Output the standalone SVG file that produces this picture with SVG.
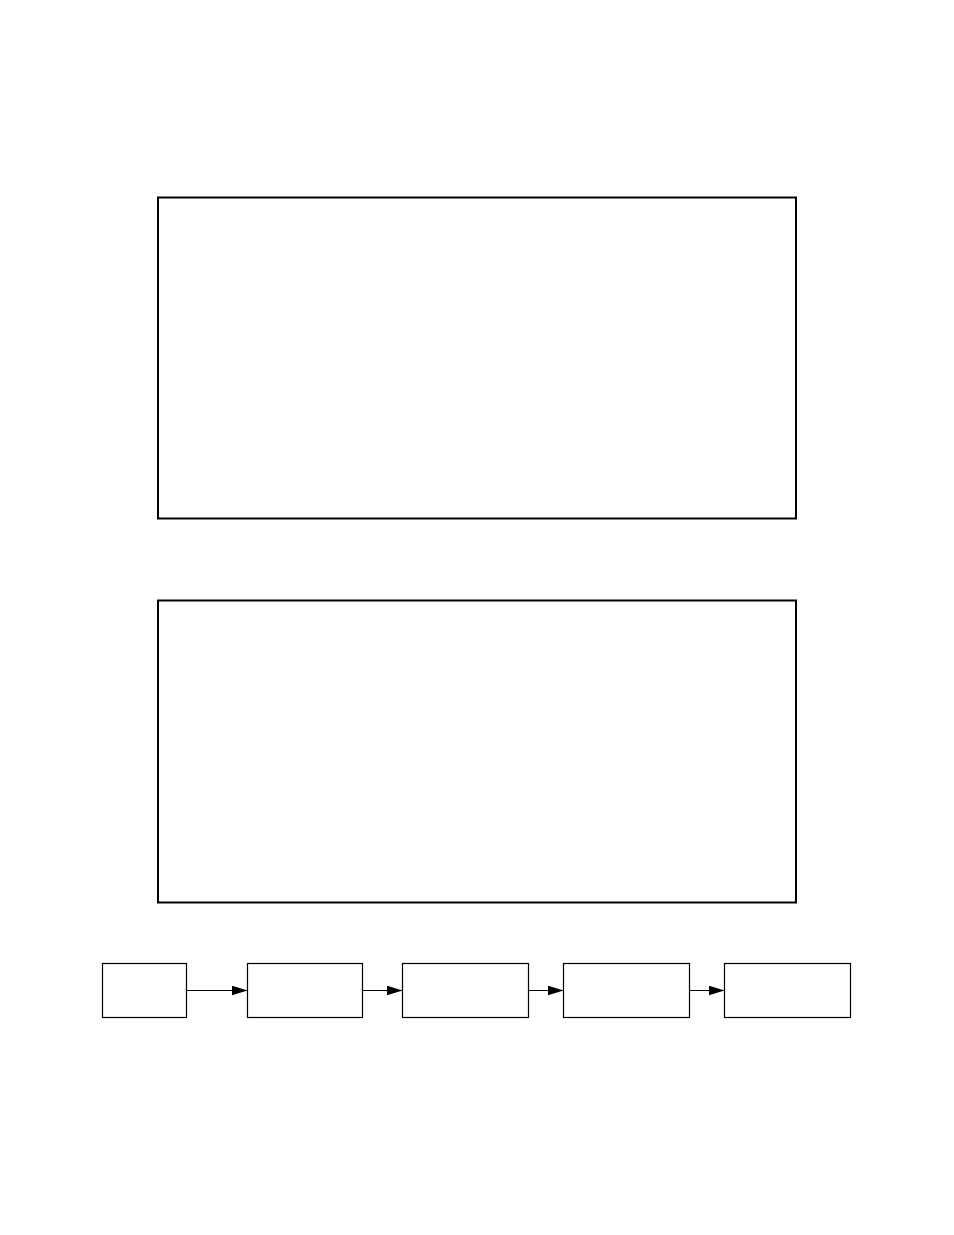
<svg xmlns="http://www.w3.org/2000/svg" width="954" height="1235" viewBox="0 0 954 1235">
<style>
.big{fill:#fff;stroke:#000;stroke-width:2}
.box{fill:#fff;stroke:#000;stroke-width:1.2}
.edge{stroke:#000;stroke-width:1.2;fill:none}
</style>
<defs>
<marker id="ah" viewBox="0 0 16 10" refX="16" refY="5" markerWidth="16" markerHeight="10" markerUnits="userSpaceOnUse" orient="auto">
<path d="M0,0 L16,5 L0,10 Z" fill="#000"/>
</marker>
</defs>
<rect width="954" height="1235" fill="#fff"/>
<g id="panel1"><rect class="big" x="158" y="197.5" width="638" height="321"/></g>
<g id="panel2"><rect class="big" x="158" y="600.5" width="638" height="302"/></g>
<g id="n1"><rect class="box" x="102.5" y="963.5" width="84" height="54"/></g>
<g id="n2"><rect class="box" x="247.5" y="963.5" width="115" height="54"/></g>
<g id="n3"><rect class="box" x="402.5" y="963.5" width="126" height="54"/></g>
<g id="n4"><rect class="box" x="563.5" y="963.5" width="126" height="54"/></g>
<g id="n5"><rect class="box" x="724.5" y="963.5" width="126" height="54"/></g>
<g id="connectors">
<line class="edge" x1="186.5" y1="990.5" x2="247.5" y2="990.5" marker-end="url(#ah)"/>
<line class="edge" x1="362.5" y1="990.5" x2="402.5" y2="990.5" marker-end="url(#ah)"/>
<line class="edge" x1="528.5" y1="990.5" x2="563.5" y2="990.5" marker-end="url(#ah)"/>
<line class="edge" x1="689.5" y1="990.5" x2="724.5" y2="990.5" marker-end="url(#ah)"/>
</g>
</svg>
